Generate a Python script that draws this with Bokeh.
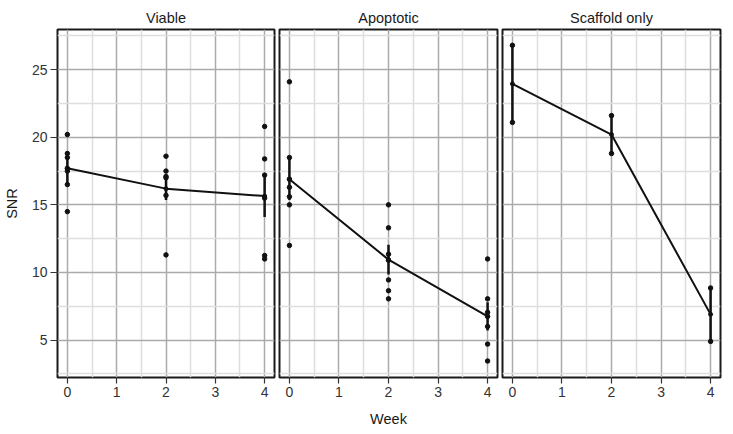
from bokeh.plotting import figure
from bokeh.layouts import row
from bokeh.models import FixedTicker, Range1d, ColumnDataSource
from bokeh.embed import file_html
from bokeh.resources import INLINE

# ---------------- data ----------------
weeks = [0, 2, 4]
panel_titles = ["Viable", "Apoptotic", "Scaffold only"]

viable_w0 = [20.2, 18.8, 18.5, 17.7, 17.5, 16.5, 14.5]
viable_w2 = [18.6, 17.5, 17.1, 17.0, 15.7, 11.3]
viable_w4 = [20.8, 18.4, 17.2, 15.5, 11.25, 11.0]
viable_mean = [17.7, 16.2, 15.65]
viable_se = [1.1, 0.85, 1.55]

apoptotic_w0 = [24.1, 18.5, 16.9, 16.3, 15.6, 15.0, 12.0]
apoptotic_w2 = [15.0, 13.3, 11.35, 10.9, 9.45, 8.65, 8.05]
apoptotic_w4 = [11.0, 8.05, 7.05, 6.75, 6.0, 4.7, 3.45]
apoptotic_mean = [16.9, 10.95, 6.75]
apoptotic_se = [1.55, 1.1, 1.05]

scaffold_w0 = [26.8, 21.1]
scaffold_w2 = [21.6, 18.8]
scaffold_w4 = [8.85, 4.9]
scaffold_mean = [23.95, 20.2, 6.9]
scaffold_se = [2.85, 1.4, 1.95]

x_ticks = [0, 1, 2, 3, 4]
x_minor = [0.5, 1.5, 2.5, 3.5]
y_ticks = [5, 10, 15, 20, 25]
y_minor = [2.5, 7.5, 12.5, 17.5, 22.5, 27.5]

panels = [
    (viable_w0, viable_w2, viable_w4, viable_mean, viable_se),
    (apoptotic_w0, apoptotic_w2, apoptotic_w4, apoptotic_mean, apoptotic_se),
    (scaffold_w0, scaffold_w2, scaffold_w4, scaffold_mean, scaffold_se),
]

FONT = "Liberation Sans"
FRAME_W, FRAME_H = 218, 348
TOP, BOTTOM = 29, 56
borders = [(56, 3), (2, 3), (2, 12)]

figs = []
for i, (title, data, (bl, br)) in enumerate(zip(panel_titles, panels, borders)):
    w0, w2, w4, mean, se = data
    p = figure(width=bl + FRAME_W + br, height=TOP + FRAME_H + BOTTOM,
               x_range=Range1d(-0.2, 4.2), y_range=Range1d(2.23, 27.97),
               output_backend="svg", toolbar_location=None,
               min_border_left=bl, min_border_right=br,
               min_border_top=TOP, min_border_bottom=BOTTOM,
               y_axis_location="left" if i == 0 else None,
               title=title)
    p.background_fill_color = "white"
    p.border_fill_color = "white"
    p.outline_line_color = "#1a1a1a"
    p.outline_line_width = 2

    p.title.align = "center"
    p.title.text_font = FONT
    p.title.text_font_size = "14.5px"
    p.title.text_font_style = "normal"
    p.title.text_color = "#1a1a1a"
    p.title.standoff = 7

    xt = FixedTicker(ticks=x_ticks, minor_ticks=x_minor)
    yt = FixedTicker(ticks=y_ticks, minor_ticks=y_minor)
    p.xaxis.ticker = xt
    p.xgrid.ticker = xt
    p.ygrid.ticker = yt
    for g in (p.xgrid, p.ygrid):
        g.grid_line_color = "#ababab"
        g.grid_line_width = 1.5
        g.minor_grid_line_color = "#dedede"
        g.minor_grid_line_width = 1.5

    axes = list(p.xaxis)
    if i == 0:
        p.yaxis.ticker = yt
        p.yaxis.axis_label = "SNR"
        p.yaxis.axis_label_standoff = 9
        p.yaxis.major_tick_out = 7
        p.yaxis.major_label_standoff = 3
        axes += list(p.yaxis)
    if i == 1:
        p.xaxis.axis_label = "Week"
        p.xaxis.axis_label_standoff = 11
    p.xaxis.major_tick_out = 6
    p.xaxis.major_label_standoff = 3
    for ax in axes:
        ax.axis_line_color = None
        ax.major_tick_line_color = "#333333"
        ax.major_tick_line_width = 1.2
        ax.major_tick_in = 0
        ax.minor_tick_line_color = None
        ax.major_label_text_font = FONT
        ax.major_label_text_font_size = "14px"
        ax.major_label_text_color = "#333333"
        ax.axis_label_text_font = FONT
        ax.axis_label_text_font_size = "14.5px"
        ax.axis_label_text_font_style = "normal"
        ax.axis_label_text_color = "#1a1a1a"

    # raw points
    px = [0] * len(w0) + [2] * len(w2) + [4] * len(w4)
    py = list(w0) + list(w2) + list(w4)
    pts = ColumnDataSource(dict(x=px, y=py))
    # summary: mean line and mean +/- SE bars
    summ = ColumnDataSource(dict(
        x=weeks, mean=mean,
        lo=[m - s for m, s in zip(mean, se)],
        hi=[m + s for m, s in zip(mean, se)]))

    p.segment(x0="x", x1="x", y0="lo", y1="hi", source=summ,
              line_color="#111111", line_width=2.5)
    p.line(x="x", y="mean", source=summ, line_color="#111111", line_width=2)
    p.scatter(x="x", y="mean", source=summ, size=4, color="#111111")
    p.scatter(x="x", y="y", source=pts, size=4.5, color="#111111")
    figs.append(p)

layout = row(*figs)
open("out.html", "w").write(file_html(layout, INLINE))
